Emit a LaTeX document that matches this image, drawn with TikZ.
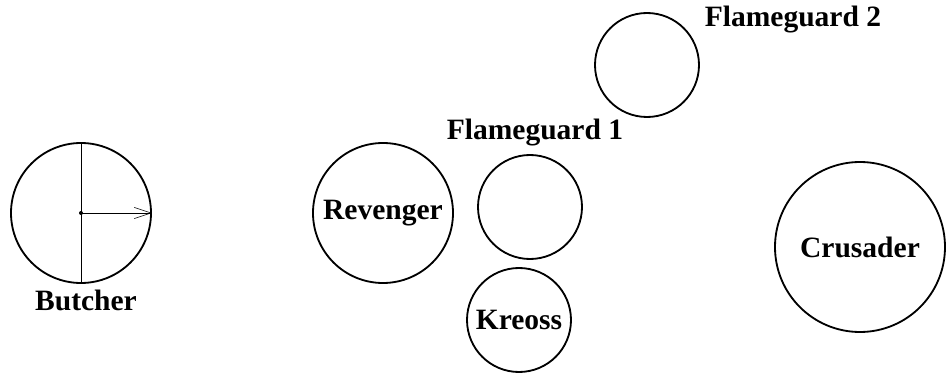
\documentclass[tikz,border=0pt]{standalone}
\usepackage{fontspec}
\setmainfont{Liberation Serif}
\usetikzlibrary{arrows.meta, positioning}

\begin{document}
\begin{tikzpicture}[>={Straight Barb[length=4.2mm, width=2.8mm]}, thick,
    model/.style={circle, draw, line width=1.3pt, inner sep=0pt},
    tag/.style={font=\bfseries\fontsize{21}{24}\selectfont}]
    \useasboundingbox (0,0) rectangle (23.8,9.375);

    % Butcher mit Blickrichtung
    \node[model, minimum size=3.5cm] (butcher) at (2.025,4.05) {};
    \draw[thin] (butcher.north) -- (butcher.south);
    \draw[thin, ->] (butcher.center) -- (butcher.east);
    \fill (butcher.center) circle (0.05);
    \node[tag] (butcherlbl) at (2.15,1.875) {Butcher};

    % Khador-Seite
    \node[model, minimum size=3.5cm, tag] (revenger) at (9.575,4.05) {Revenger};
    \node[model, minimum size=2.6cm] (fg1) at (13.25,4.2) {};
    \node[model, minimum size=2.6cm, tag] (kreoss) at (12.975,1.375) {Kreoss};
    \node[model, minimum size=2.6cm] (fg2) at (16.175,7.75) {};
    \node[model, minimum size=4.25cm, tag] (crusader) at (21.5,3.2) {Crusader};

    % Beschriftungen
    \node[tag] (fg1lbl) at (13.375,6.05) {Flameguard 1};
    \node[tag] (fg2lbl) at (19.825,8.875) {Flameguard 2};
\end{tikzpicture}
\end{document}
